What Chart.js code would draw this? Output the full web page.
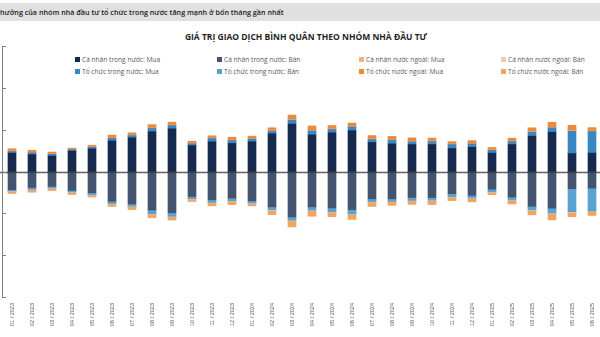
<!DOCTYPE html>
<html>
<head>
<meta charset="utf-8">
<script src="https://cdn.jsdelivr.net/npm/chart.js@4"></script>
<style>
  html, body { margin: 0; padding: 0; background: #fff; overflow: hidden; }
  body { width: 600px; height: 337px; position: relative; font-family: "Open Sans", sans-serif; }
  .banner { position: absolute; left: 0; top: 3px; width: 600px; height: 18px; background: #e0e0e0;
    font-size: 7.2px; font-weight: 600; color: #1a1a1a; line-height: 18px; white-space: nowrap; }
  .title { position: absolute; left: 0; width: 612px; top: 31px; text-align: center;
    font-size: 8.5px; font-weight: 700; color: #1f1f1f; }
  .legend { position: absolute; font-size: 6.6px; color: #595959; white-space: nowrap; line-height: 8px; }
  .legend i { display: inline-block; width: 5px; height: 5px; margin-right: 2px; vertical-align: 0px; }
  .wrap { position: absolute; left: 0; top: 40px; width: 610px; height: 297px; }
</style>
</head>
<body>
<div class="banner">hưởng của nhóm nhà đầu tư tổ chức trong nước tăng mạnh ở bốn tháng gần nhất</div>
<div class="title">GIÁ TRỊ GIAO DỊCH BÌNH QUÂN THEO NHÓM NHÀ ĐẦU TƯ</div>
<div id="legend"></div>
<div class="wrap"><canvas id="chart"></canvas></div>
<script>
const months = ['01 / 2023', '02 / 2023', '03 / 2023', '04 / 2023', '05 / 2023', '06 / 2023',
  '07 / 2023', '08 / 2023', '09 / 2023', '10 / 2023', '11 / 2023', '12 / 2023',
  '01 / 2024', '02 / 2024', '03 / 2024', '04 / 2024', '05 / 2024', '06 / 2024',
  '07 / 2024', '08 / 2024', '09 / 2024', '10 / 2024', '11 / 2024', '12 / 2024',
  '01 / 2025', '02 / 2025', '03 / 2025', '04 / 2025', '05 / 2025', '06 / 2025'];

// nghìn tỷ đồng / phiên
const caNhanTNMua = [8.8, 8.1, 7.4, 9.8, 10.8, 14.6, 16.1, 19.0, 20.4, 12.4, 14.2, 13.4, 14.2, 18.0, 22.7,
  17.5, 18.5, 19.5, 13.9, 13.2, 12.9, 12.9, 11.0, 11.6, 8.8, 12.9, 16.9, 18.8, 8.6, 8.8];
const toChucTNMua = [0.8, 0.9, 0.8, 0.6, 0.8, 1.3, 1.1, 1.6, 1.6, 0.9, 1.6, 1.4, 1.3, 1.2, 1.9,
  1.9, 1.6, 1.8, 1.4, 1.8, 1.3, 1.4, 1.9, 1.6, 1.3, 1.4, 1.9, 2.1, 10.6, 10.3];
const caNhanNNMua = [0.2, 0.2, 0.2, 0.1, 0.2, 0.2, 0.2, 0.2, 0.2, 0.2, 0.2, 0.2, 0.2, 0.2, 0.3,
  0.3, 0.2, 0.2, 0.2, 0.2, 0.2, 0.2, 0.2, 0.2, 0.2, 0.2, 0.3, 0.3, 0.3, 0.2];
const toChucNNMua = [1.1, 1.0, 0.9, 0.7, 0.8, 1.3, 1.1, 1.6, 1.4, 1.0, 1.1, 1.4, 1.2, 1.5, 2.1,
  2.1, 1.7, 1.7, 1.7, 1.6, 1.7, 1.5, 1.2, 1.4, 1.2, 1.4, 1.8, 2.3, 2.6, 1.7];

const caNhanTNBan = [-8.7, -7.6, -7.1, -9.0, -10.1, -14.3, -15.5, -18.4, -19.7, -11.9, -13.5, -12.7, -14.0, -16.9, -21.7,
  -16.9, -17.4, -18.2, -13.0, -13.0, -12.4, -12.4, -10.6, -11.4, -8.4, -12.2, -16.6, -17.5, -8.2, -7.9];
const toChucTNBan = [-0.6, -1.0, -0.8, -0.8, -1.0, -1.1, -1.1, -1.8, -1.7, -1.1, -1.3, -1.3, -1.1, -1.4, -1.6,
  -1.6, -1.9, -2.1, -1.4, -1.3, -1.4, -1.3, -1.4, -1.3, -1.3, -1.4, -1.8, -2.4, -11.0, -11.0];
const caNhanNNBan = [-0.2, -0.2, -0.2, -0.2, -0.2, -0.2, -0.2, -0.2, -0.2, -0.2, -0.2, -0.2, -0.2, -0.3, -0.3,
  -0.3, -0.2, -0.2, -0.2, -0.2, -0.2, -0.2, -0.2, -0.2, -0.2, -0.2, -0.3, -0.3, -0.3, -0.2];
const toChucNNBan = [-1.0, -1.1, -1.0, -1.0, -0.9, -1.1, -1.4, -1.7, -1.6, -1.1, -1.4, -1.6, -1.1, -2.0, -2.9,
  -2.6, -2.1, -2.4, -2.1, -1.7, -1.7, -1.9, -1.7, -1.6, -1.2, -1.7, -2.0, -2.9, -2.1, -1.9];

const yTicks = [-60, -40, -20, 0, 20, 40, 60];

const series = [
  { label: 'Cá nhân trong nước: Mua', data: caNhanTNMua, color: '#152a4e' },
  { label: 'Cá nhân trong nước: Bán', data: caNhanTNBan, color: '#44546f' },
  { label: 'Cá nhân nước ngoài: Mua', data: caNhanNNMua, color: '#f4b183' },
  { label: 'Cá nhân nước ngoài: Bán', data: caNhanNNBan, color: '#f8cbad' },
  { label: 'Tổ chức trong nước: Mua', data: toChucTNMua, color: '#3a86c0' },
  { label: 'Tổ chức trong nước: Bán', data: toChucTNBan, color: '#5aa2cf' },
  { label: 'Tổ chức nước ngoài: Mua', data: toChucNNMua, color: '#ec8a3c' },
  { label: 'Tổ chức nước ngoài: Bán', data: toChucNNBan, color: '#f2a461' }
];

// legend, 4 columns x 2 rows
const legendBox = document.getElementById('legend');
series.forEach((s, i) => {
  const el = document.createElement('div');
  el.className = 'legend';
  el.style.left = (75 + (i % 4) * 142) + 'px';
  el.style.top = (56 + Math.floor(i / 4) * 12) + 'px';
  el.innerHTML = '<i style="background:' + s.color + '"></i>' + s.label;
  legendBox.appendChild(el);
});

// stacking order from zero outward
const stackOrder = [0, 4, 2, 6, 1, 5, 3, 7];

const axisLines = {
  id: 'axisLines',
  afterDatasetsDraw(chart) {
    const { ctx, chartArea, scales: { y } } = chart;
    ctx.save();
    const y0 = Math.round(y.getPixelForValue(0)) + 0.5;
    ctx.strokeStyle = 'rgba(60,60,60,0.8)';
    ctx.lineWidth = 1.5;
    ctx.beginPath();
    ctx.moveTo(0, y0);
    ctx.lineTo(chartArea.right, y0);
    ctx.stroke();

    ctx.strokeStyle = '#7f7f7f';
    ctx.lineWidth = 1;
    ctx.beginPath();
    ctx.moveTo(2.5, y.getPixelForValue(60));
    ctx.lineTo(2.5, y.getPixelForValue(-60));
    yTicks.forEach(v => {
      const py = Math.round(y.getPixelForValue(v)) + 0.5;
      ctx.moveTo(2, py);
      ctx.lineTo(6, py);
    });
    ctx.stroke();
    ctx.restore();
  }
};

new Chart(document.getElementById('chart'), {
  type: 'bar',
  data: {
    labels: months,
    datasets: stackOrder.map(i => ({
      label: series[i].label,
      data: series[i].data,
      backgroundColor: series[i].color,
      borderWidth: 0,
      barThickness: 8
    }))
  },
  options: {
    responsive: true,
    maintainAspectRatio: false,
    animation: false,
    layout: { padding: { left: 2, right: 8, top: 6, bottom: 5 } },
    plugins: { legend: { display: false }, tooltip: { enabled: false } },
    scales: {
      x: {
        stacked: true,
        offset: true,
        grid: { display: false, drawTicks: false },
        border: { display: false },
        ticks: {
          autoSkip: false,
          minRotation: 90,
          maxRotation: 90,
          padding: 6,
          color: '#595959',
          font: { family: 'Liberation Sans', size: 5.5 }
        }
      },
      y: {
        display: false,
        stacked: true,
        min: -60,
        max: 60,
        ticks: { stepSize: 20 }
      }
    }
  },
  plugins: [axisLines]
});
</script>
</body>
</html>
